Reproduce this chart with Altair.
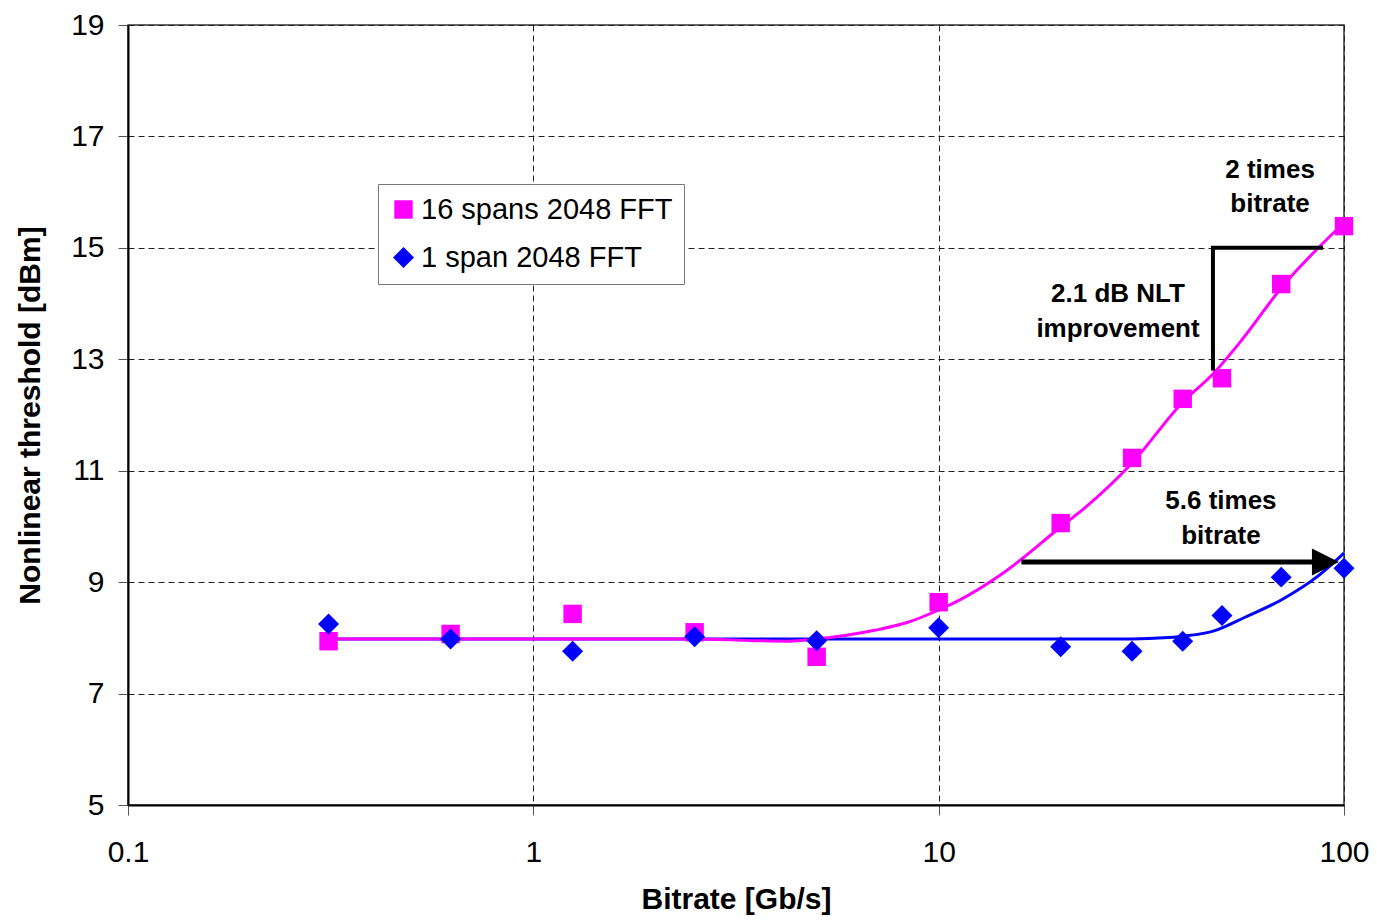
import altair as alt
import pandas as pd

# ---- data ----
bitrate = [0.3125, 0.625, 1.25, 2.5, 5, 10, 20, 30, 40, 50, 70, 100]
nlt_16 = [7.94, 8.07, 8.43, 8.10, 7.66, 8.64, 10.06, 11.23, 12.29, 12.66, 14.35, 15.39]
nlt_1 = [8.25, 7.98, 7.76, 8.02, 7.95, 8.18, 7.84, 7.76, 7.94, 8.40, 9.09, 9.25]
series_names = ["16 spans 2048 FFT", "1 span 2048 FFT"]

fit16_x = [0.3125, 1, 2.5, 3.5, 4.2, 5, 7, 8.4, 10, 11, 14.4, 20, 22.9, 30, 40, 47.7, 56, 70, 100]
fit16_y = [7.98, 7.98, 7.98, 7.95, 7.94, 7.98, 8.14, 8.28, 8.5, 8.64, 9.16, 9.99, 10.33, 11.14, 12.23, 12.75, 13.35, 14.28, 15.45]
fit1_x = [0.3125, 1, 10, 30, 36, 40, 45, 48, 57, 70, 87, 100]
fit1_y = [7.98, 7.98, 7.98, 7.98, 8.0, 8.03, 8.08, 8.13, 8.37, 8.68, 9.13, 9.52]

bracket_x = [47.5, 47.5, 88.8]
bracket_y = [12.8, 15.0, 15.0]
arrow_x = [16.0, 86.0]
arrow_y = 9.36
arrowhead_x = [90.0]

ann_text = ["2 times", "bitrate", "2.1 dB NLT", "improvement", "5.6 times", "bitrate"]
ann_x = [65.7, 65.7, 27.7, 27.7, 49.7, 49.7]
ann_y = [16.40, 15.79, 14.17, 13.54, 10.46, 9.83]

x_ticks = [0.1, 1, 10, 100]
y_ticks = [5, 7, 9, 11, 13, 15, 17, 19]

FONT = "Liberation Sans"

# ---- tables ----
pts = pd.DataFrame({
    "bitrate": bitrate * 2,
    "nlt": nlt_16 + nlt_1,
    "series": [series_names[0]] * len(bitrate) + [series_names[1]] * len(bitrate),
})
fit16 = pd.DataFrame({"bitrate": fit16_x, "nlt": fit16_y})
fit1 = pd.DataFrame({"bitrate": fit1_x, "nlt": fit1_y})
bracket = pd.DataFrame({"bitrate": bracket_x, "nlt": bracket_y, "idx": list(range(len(bracket_x)))})
arrow = pd.DataFrame({"b1": [arrow_x[0]], "b2": [arrow_x[1]], "nlt": [arrow_y]})
head = pd.DataFrame({"bitrate": arrowhead_x, "nlt": [arrow_y]})
ann = pd.DataFrame({"bitrate": ann_x, "nlt": ann_y, "text": ann_text})

xscale = alt.Scale(type="log", domain=[0.1, 100], nice=False)
yscale = alt.Scale(domain=[5, 19], nice=False, zero=False)

xaxis = alt.Axis(
    values=x_ticks, format="~g", title="Bitrate [Gb/s]", labelFlush=False,
    labelFont=FONT, labelFontSize=30, labelColor="black", labelPadding=22,
    titleFont=FONT, titleFontSize=30, titleFontWeight="bold", titleColor="black", titlePadding=17,
    tickSize=10, tickColor="#555", domainColor="black", domainWidth=2,
    grid=True, gridColor="#222", gridDash=[6, 4], gridWidth=1,
)
yaxis = alt.Axis(
    values=y_ticks, format="d", title="Nonlinear threshold [dBm]",
    labelFont=FONT, labelFontSize=30, labelColor="black", labelPadding=14,
    titleFont=FONT, titleFontSize=30, titleFontWeight="bold", titleColor="black", titlePadding=25,
    tickSize=10, tickColor="#555", domainColor="black", domainWidth=2,
    grid=True, gridColor="#222", gridDash=[6, 4], gridWidth=1,
)

line1 = alt.Chart(fit1).mark_line(color="#0000FF", strokeWidth=3, interpolate="monotone").encode(
    x=alt.X("bitrate:Q", scale=xscale, axis=xaxis), y=alt.Y("nlt:Q", scale=yscale, axis=yaxis))
line16 = alt.Chart(fit16).mark_line(color="#FF00FF", strokeWidth=3, interpolate="monotone").encode(
    x=alt.X("bitrate:Q", scale=xscale), y=alt.Y("nlt:Q", scale=yscale))

points = alt.Chart(pts).mark_point(filled=True, opacity=1, strokeWidth=0).encode(
    x=alt.X("bitrate:Q", scale=xscale),
    y=alt.Y("nlt:Q", scale=yscale),
    color=alt.Color("series:N", scale=alt.Scale(domain=series_names, range=["#FF00FF", "#0000FF"]),
                    legend=alt.Legend(title=None)),
    shape=alt.Shape("series:N", scale=alt.Scale(domain=series_names, range=["square", "diamond"]),
                    legend=alt.Legend(title=None)),
    size=alt.Size("series:N", scale=alt.Scale(domain=series_names, range=[340, 440]),
                  legend=alt.Legend(title=None)),
)

bracket_line = alt.Chart(bracket).mark_line(color="black", strokeWidth=4, strokeCap="butt").encode(
    x=alt.X("bitrate:Q", scale=xscale), y=alt.Y("nlt:Q", scale=yscale), order="idx:Q")

arrow_line = alt.Chart(arrow).mark_rule(color="black", strokeWidth=5).encode(
    x=alt.X("b1:Q", scale=xscale), x2="b2:Q", y=alt.Y("nlt:Q", scale=yscale))

arrow_head = alt.Chart(head).mark_point(
    shape="M-1,-1L1,0L-1,1Z", filled=True, color="black", opacity=1, size=729, strokeWidth=0
).encode(x=alt.X("bitrate:Q", scale=xscale), y=alt.Y("nlt:Q", scale=yscale))

texts = alt.Chart(ann).mark_text(
    font=FONT, fontSize=26, fontWeight="bold", color="black", align="center", baseline="middle"
).encode(x=alt.X("bitrate:Q", scale=xscale), y=alt.Y("nlt:Q", scale=yscale), text="text:N")

chart = alt.layer(line1, line16, points, bracket_line, arrow_line, arrow_head, texts).properties(
    width=1216, height=780,
    autosize=alt.AutoSizeParams(type="none"),
    padding={"left": 120, "top": 17, "right": 25, "bottom": 110},
).configure_view(
    stroke="#333", strokeWidth=1.5
).configure_legend(
    orient="none", legendX=250, legendY=159,
    strokeColor="#777", fillColor="white", padding=11,
    labelFont=FONT, labelFontSize=29, labelColor="black", labelLimit=400,
    rowPadding=18, labelOffset=3,
)

chart.save("out.html", embed_options={"renderer": "svg", "actions": False})
